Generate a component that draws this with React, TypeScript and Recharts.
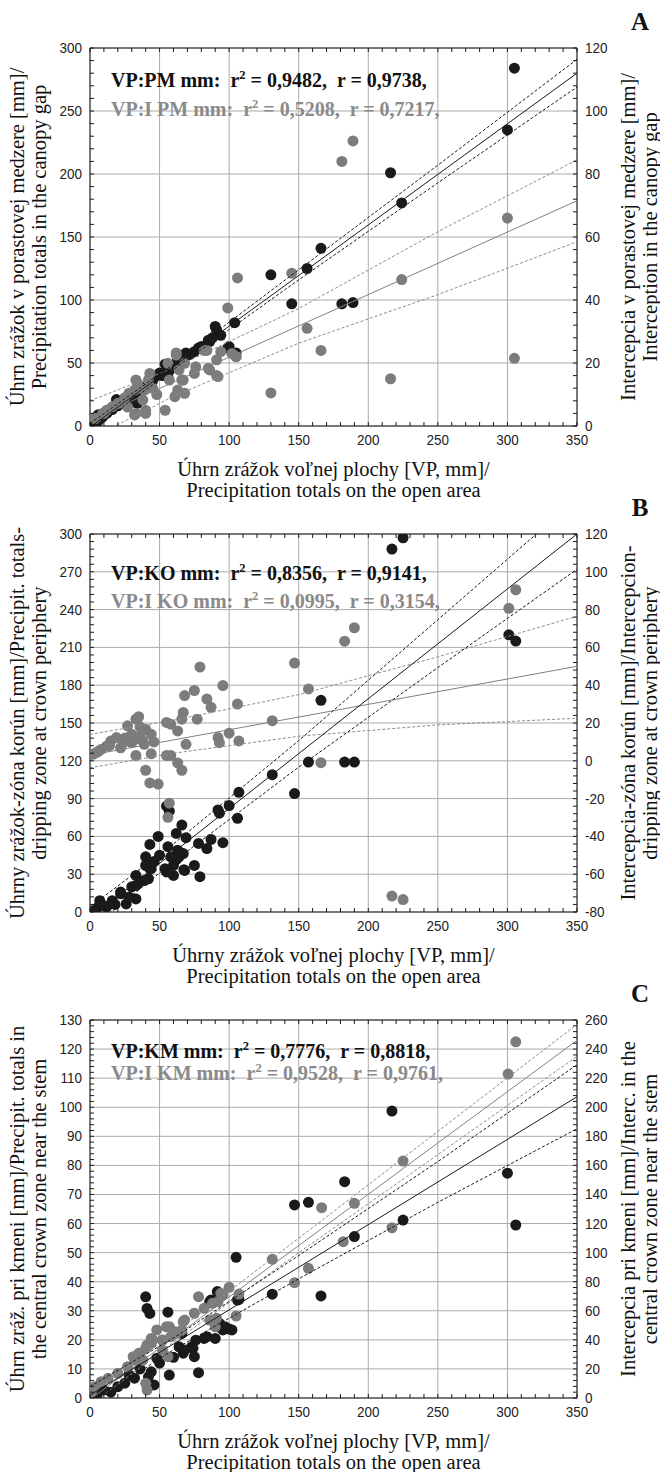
import React from "react";
import { ScatterChart, Scatter, XAxis, YAxis, CartesianGrid } from "recharts";

type Pt = { x: number; y: number };
const toPts = (rows: number[][]): Pt[] => rows.map(([x, y]) => ({ x, y }));

// open-area precipitation (x axis, mm), shared by all three panels
const openTicks = [0, 50, 100, 150, 200, 250, 300, 350];

// ---------- A: canopy gap ----------
const gapTicks = [0, 50, 100, 150, 200, 250, 300];
const gapInterTicks = [0, 20, 40, 60, 80, 100, 120];
const gapRain = toPts([
  [305, 284], [300, 235], [216, 201], [224, 177], [166, 141], [156, 125], [130, 120], [145, 97], [181, 97], [189, 98],
  [104, 82], [99, 62], [105, 58], [91, 76], [94, 72], [86, 67], [90, 79], [85, 68], [75, 59], [69, 58],
  [66, 56], [54, 49], [56, 39], [57, 44], [100, 63], [78, 62], [70, 56], [62, 50], [60, 48], [55, 43],
  [50, 42], [48, 40], [45, 36], [42, 33], [38, 30], [35, 28], [34, 18], [32, 25], [28, 22], [24, 19],
  [19, 21], [20, 16], [16, 13], [14, 13], [12, 10], [9, 7], [6, 9], [6, 4], [3, 2], [40, 31],
  [44, 34], [52, 40], [64, 52], [72, 57], [80, 63], [88, 70], [26, 17], [30, 20],
]);
const gapInter = toPts([
  [181, 84], [189, 90.5], [300, 66], [224, 46.5], [156, 31], [166, 24], [216, 15], [305, 21.5], [106, 47], [99, 37.5],
  [145, 48.5], [130, 10.5], [105, 22], [91, 21], [85, 18.3], [91, 16], [84, 24], [94, 23.6], [76, 18.8], [75, 16.7],
  [68, 10.4], [67, 14.6], [61, 9.3], [62, 22.5], [57, 14.6], [54, 5], [64, 17.8], [43, 16.7], [42, 14.6], [39, 11.4],
  [38, 8.3], [40, 5], [33, 4], [33, 14.6], [32, 11.4], [28, 10.4], [21, 7.2], [16, 6.1], [9, 4], [4, 2.4],
  [62, 23.2], [56, 19.9], [32, 3.5], [40, 4], [34, 13.6], [20, 7.2], [10, 4], [3, 2.4], [68, 19.9], [66, 14.6],
  [63, 11.4], [82, 24], [86, 17.8], [92, 15.7], [102, 23], [105, 22], [12, 5], [25, 9], [45, 12], [48, 10],
  [36, 12], [27, 6],
]);
const gapRainFit = toPts([[0, -1], [350, 280]]);
const gapRainHi = toPts([[0, 2], [60, 49], [150, 124], [250, 207], [350, 291]]);
const gapRainLo = toPts([[0, -4], [60, 45], [150, 116], [250, 193], [350, 269]]);
const gapInterFit = toPts([[0, 2], [350, 71.5]]);
const gapInterHi = toPts([[0, 8], [60, 18.4], [150, 37.3], [250, 61.7], [350, 84.5]]);
const gapInterLo = toPts([[0, -4], [60, 9.4], [150, 26.3], [250, 41.7], [350, 58.5]]);

// ---------- B: dripping zone at crown periphery ----------
const crownTicks = [0, 30, 60, 90, 120, 150, 180, 210, 240, 270, 300];
const crownInterTicks = [-80, -60, -40, -20, 0, 20, 40, 60, 80, 100, 120];
const crownRain = toPts([
  [217, 288], [225, 297], [301, 220], [306, 215], [166, 168], [157, 119], [183, 119], [190, 119], [131, 109], [147, 94],
  [107, 95], [100, 84.5], [106, 74.4], [92, 81], [93, 78.4], [95.5, 55], [87, 57.6], [84, 50.4], [78, 54.4], [75, 37],
  [79, 28], [69, 59], [66, 69], [62, 62.4], [64, 43.8], [67.5, 33.6], [63, 49], [57, 80], [55, 84], [49, 60],
  [43, 53.6], [56, 51.8], [54, 34.4], [58, 43.8], [60, 37], [40, 43.8], [44, 34.4], [33, 29], [40, 37], [42, 26.4],
  [33, 21], [22, 15.8], [67, 46.4], [62, 41.6], [68, 33], [33, 10.4], [26, 6.4], [22, 14.4], [7, 9], [16, 9],
  [5, 2.7], [12, 4], [39, 25], [55, 31.8], [60, 29], [43, 34.4], [30, 20], [28, 12], [18, 6], [10, 5],
  [3, 1], [36, 24], [46, 40], [50, 45],
]);
const crownInter = toPts([
  [306, 90.5], [301, 80.7], [183, 63.3], [190, 70.4], [157, 38], [166, -1], [217, -71.6], [225, -73.4], [79, 49.6], [75, 37.2],
  [68, 34.5], [84, 32.7], [87, 28.3], [95.5, 39.8], [106, 30], [67, 25.6], [66, 22], [77, 22], [100, 14.6], [92, 12.3],
  [93, 9.6], [107, 10.5], [69, 8.7], [55, 20.3], [58, 19.4], [63, 15.8], [55, 2.8], [58, 2.8], [63, -1.1], [66, -5],
  [44, 3.7], [33, 2.8], [40, -5], [43, -11.7], [49, -12.3], [57, -22.4], [56, -29.9], [35, 23.3], [33, 22], [27, 18.5],
  [36, 13.2], [40, 16.7], [38, 10.5], [46, 10], [39, 8.7], [32, 11.4], [30, 9.6], [19, 12.3], [15, 10.5], [12, 7.8],
  [8, 6], [4.5, 4.3], [2, 3.4], [22, 6.9], [24, 9.6], [131, 21.2], [147, 51.7], [25, 12], [6, 5], [14, 8],
  [30, 14], [36, 18], [44, 14],
]);
const crownRainFit = toPts([[0, -5], [350, 300]]);
const crownRainHi = toPts([[0, 4], [60, 54], [150, 136], [250, 232], [350, 328]]);
const crownRainLo = toPts([[0, -14], [60, 40], [150, 115], [250, 194], [350, 272]]);
const crownInterFit = toPts([[0, 3], [350, 50]]);
const crownInterHi = toPts([[0, 14], [60, 21.5], [150, 35], [250, 55], [350, 76.5]]);
const crownInterLo = toPts([[0, -3.7], [60, 4], [150, 13], [250, 19], [350, 22.5]]);

// ---------- C: central crown zone near the stem ----------
const stemTicks = [0, 10, 20, 30, 40, 50, 60, 70, 80, 90, 100, 110, 120, 130];
const stemInterTicks = [0, 20, 40, 60, 80, 100, 120, 140, 160, 180, 200, 220, 240, 260];
const stemRain = toPts([
  [217, 98.7], [183, 74.4], [157, 67.3], [300, 77.3], [306, 59.5], [225, 61.2], [190, 55.5], [166, 35.1], [147, 66.4], [105, 48.4],
  [131, 35.7], [107, 33.9], [91.5, 36.6], [86, 33.1], [40, 34.8], [41, 30.8], [43, 29.1], [56, 29.5], [100, 23.7], [95.5, 23.4],
  [93, 25.7], [91, 24.5], [84, 21.1], [76, 19.9], [74, 17.1], [67, 15.4], [48, 13.7], [52, 19.9], [66, 22.2], [64, 17.6],
  [78, 8.7], [57, 7.9], [46, 4.5], [42, 7.3], [32, 6.8], [25, 5.1], [20, 3.9], [10, 2.8], [68, 16.5], [73, 17.6],
  [75, 14.2], [82, 20.5], [90, 20.5], [97, 24.5], [102, 23.4], [106, 33.7], [87, 33.7], [15, 2], [5, 1], [28, 8],
  [36, 10], [50, 12], [60, 14], [44, 9],
]);
const stemInter = toPts([
  [306, 245], [300.5, 222.8], [225, 163], [190, 133.9], [166.5, 130.9], [182, 107.5], [217, 117.1], [157, 89.2], [147, 79.3], [131, 95.4],
  [78, 69.7], [100, 76.1], [107, 71.5], [105, 56.4], [75, 58.3], [82, 61.7], [92, 66.2], [95.5, 70.8], [86, 53.6], [91, 54.8],
  [57, 49], [67, 52.5], [62, 44.5], [52, 39.9], [45, 39.9], [40, 34.2], [36, 30.7], [31, 28.4], [88, 65.1], [94, 72],
  [90, 49], [68, 53.6], [66, 46.8], [61, 45.6], [58, 42.2], [55, 49], [56, 28.4], [52, 33], [44, 37.6], [41, 36.5],
  [35, 30.7], [32, 26.1], [38, 26.1], [41, 5.5], [40, 10.1], [27, 21.5], [20, 17], [13, 13.5], [8, 11.2], [3.3, 7.8],
  [1, 4.3], [48, 46.8], [44, 41],
]);
const stemRainFit = toPts([[0, 1], [350, 103.6]]);
const stemRainHi = toPts([[0, 4], [60, 20.6], [150, 49], [250, 81.3], [350, 114.6]]);
const stemRainLo = toPts([[0, -2], [60, 16.6], [150, 41], [250, 67.3], [350, 92.6]]);
const stemInterFit = toPts([[0, -1], [350, 246]]);
const stemInterHi = toPts([[0, 3], [60, 44.3], [150, 109.9], [250, 183.4], [350, 257]]);
const stemInterLo = toPts([[0, -5], [60, 38.3], [150, 99.9], [250, 167.4], [350, 235]]);

const INK = "#1a1a1a";
const GREY = "#7c7c7c";
const GREY_TEXT = "#8a8a8a";
const SERIF = "'Liberation Serif', 'Times New Roman', serif";
const SANS = "'Liberation Sans', Arial, sans-serif";

const PANEL_H = 486;
const PLOT_TOP = 48;
const PLOT_H = 378;
const PLOT_LEFT = 90;
const PLOT_RIGHT = 577;
const TITLE_SIZE = 20.5;

// minor tick positions between the labelled ones
const steps = (lo: number, hi: number, step: number) => {
  const out: number[] = [];
  for (let v = lo; v <= hi + 1e-9; v += step) out.push(Math.round(v * 1000) / 1000);
  return out;
};
const isMajor = (v: number, majors: number[]) => majors.some((m) => Math.abs(m - v) < 1e-6);

// tick numbers are drawn a little taller than wide
const TickLabel = ({ x, y, anchor, value }: { x: number; y: number; anchor: string; value: number }) => (
  <text
    transform={`translate(${x},${y}) scale(1,1.12)`}
    textAnchor={anchor}
    fontFamily={SANS}
    fontSize={13.5}
    fill="#222"
  >
    {value}
  </text>
);

const BottomTick = (p: any) => (
  <g>
    <line x1={p.x} x2={p.x} y1={p.y} y2={p.y - 4} stroke={INK} />
    {isMajor(p.payload.value, p.majors) && <TickLabel x={p.x} y={p.y + 19} anchor="middle" value={p.payload.value} />}
  </g>
);
const TopTick = (p: any) => <line x1={p.x} x2={p.x} y1={p.y} y2={p.y + 4} stroke={INK} />;
const LeftTick = (p: any) => (
  <g>
    <line x1={p.x} x2={p.x + 4} y1={p.y} y2={p.y} stroke={INK} />
    {isMajor(p.payload.value, p.majors) && <TickLabel x={p.x - 8} y={p.y + 5} anchor="end" value={p.payload.value} />}
  </g>
);
const RightTick = (p: any) => (
  <g>
    <line x1={p.x - 4} x2={p.x} y1={p.y} y2={p.y} stroke={INK} />
    {isMajor(p.payload.value, p.majors) && <TickLabel x={p.x + 8} y={p.y + 5} anchor="start" value={p.payload.value} />}
  </g>
);

const NoDot = () => null;
const dot = (color: string) => (p: any) => <circle cx={p.cx} cy={p.cy} r={5.5} fill={color} />;

type Stat = { label: string; r2: string; r: string };
type PanelProps = {
  top: number;
  letter: string;
  leftTicks: number[];
  leftMinor: number;
  rightTicks: number[];
  rightMinor: number;
  rain: Pt[];
  inter: Pt[];
  rainFit: Pt[];
  rainHi: Pt[];
  rainLo: Pt[];
  interFit: Pt[];
  interHi: Pt[];
  interLo: Pt[];
  stats: [Stat, Stat];
  statY: [number, number];
  leftTitle: [string, string];
  rightTitle: [string, string];
  xTitle: [string, string];
};

const StatLine = ({ s, y, color }: { s: Stat; y: number; color: string }) => (
  <div
    style={{
      position: "absolute",
      left: 111,
      top: y - 10,
      lineHeight: "20px",
      fontFamily: SERIF,
      fontWeight: "bold",
      fontSize: 20,
      color,
      whiteSpace: "pre",
    }}
  >
    {`${s.label}:  r`}
    <span style={{ fontSize: 12.5, position: "relative", top: -8 }}>2</span>
    {` = ${s.r2},  r = ${s.r},`}
  </div>
);

const VerticalTitle = ({ lines, cx, cy }: { lines: [string, string]; cx: number; cy: number }) => (
  <div
    style={{
      position: "absolute",
      left: cx,
      top: cy,
      transform: "translate(-50%, -50%) rotate(-90deg)",
      fontFamily: SERIF,
      fontSize: TITLE_SIZE,
      lineHeight: "22px",
      textAlign: "center",
      whiteSpace: "nowrap",
      color: "#111",
    }}
  >
    <div>{lines[0]}</div>
    <div>{lines[1]}</div>
  </div>
);

const Panel = (p: PanelProps) => {
  const lDom = [p.leftTicks[0], p.leftTicks[p.leftTicks.length - 1]];
  const rDom = [p.rightTicks[0], p.rightTicks[p.rightTicks.length - 1]];
  const xMinor = steps(0, 350, 10);
  const midY = PLOT_TOP + PLOT_H / 2;
  const bottom = PLOT_TOP + PLOT_H;
  const fitLine = (data: Pt[], yAxisId: string, stroke: string, dashed: boolean, key: string) => (
    <Scatter
      key={key}
      data={data}
      xAxisId="x"
      yAxisId={yAxisId}
      fill="none"
      line={{ stroke, strokeWidth: 1, strokeDasharray: dashed ? "3 2" : undefined }}
      shape={<NoDot />}
      isAnimationActive={false}
    />
  );
  return (
    <div style={{ position: "absolute", left: 0, top: p.top, width: 660, height: PANEL_H }}>
      <ScatterChart width={660} height={PANEL_H} margin={{ top: PLOT_TOP, right: 0, bottom: 0, left: 0 }}>
        <CartesianGrid
          xAxisId="x"
          yAxisId="left"
          verticalValues={openTicks}
          horizontalValues={p.leftTicks}
          stroke="#ababab"
        />
        <XAxis
          xAxisId="x"
          type="number"
          dataKey="x"
          domain={[0, 350]}
          allowDataOverflow
          ticks={xMinor}
          interval={0}
          height={60}
          tickSize={0}
          tickMargin={0}
          tickLine={false}
          axisLine={{ stroke: INK }}
          tick={<BottomTick majors={openTicks} />}
        />
        <XAxis
          xAxisId="top"
          orientation="top"
          mirror
          type="number"
          dataKey="x"
          domain={[0, 350]}
          allowDataOverflow
          ticks={xMinor}
          interval={0}
          tickSize={0}
          tickMargin={0}
          tickLine={false}
          axisLine={{ stroke: INK }}
          tick={<TopTick />}
        />
        <YAxis
          yAxisId="left"
          type="number"
          dataKey="y"
          domain={lDom}
          allowDataOverflow
          ticks={steps(lDom[0], lDom[1], p.leftMinor)}
          interval={0}
          width={PLOT_LEFT}
          tickSize={0}
          tickMargin={0}
          tickLine={false}
          axisLine={{ stroke: INK }}
          tick={<LeftTick majors={p.leftTicks} />}
        />
        <YAxis
          yAxisId="right"
          orientation="right"
          type="number"
          dataKey="y"
          domain={rDom}
          allowDataOverflow
          ticks={steps(rDom[0], rDom[1], p.rightMinor)}
          interval={0}
          width={660 - PLOT_RIGHT}
          tickSize={0}
          tickMargin={0}
          tickLine={false}
          axisLine={{ stroke: INK }}
          tick={<RightTick majors={p.rightTicks} />}
        />
        <Scatter data={p.rain} xAxisId="x" yAxisId="left" fill={INK} shape={dot(INK)} isAnimationActive={false} />
        <Scatter data={p.inter} xAxisId="x" yAxisId="right" fill={GREY} shape={dot(GREY)} isAnimationActive={false} />
        {fitLine(p.interHi, "right", "#8c8c8c", true, "ih")}
        {fitLine(p.interLo, "right", "#8c8c8c", true, "il")}
        {fitLine(p.interFit, "right", "#808080", false, "if")}
        {fitLine(p.rainHi, "left", INK, true, "rh")}
        {fitLine(p.rainLo, "left", INK, true, "rl")}
        {fitLine(p.rainFit, "left", INK, false, "rf")}
      </ScatterChart>

      <StatLine s={p.stats[0]} y={PLOT_TOP + p.statY[0]} color="#111" />
      <StatLine s={p.stats[1]} y={PLOT_TOP + p.statY[1]} color={GREY_TEXT} />

      <div
        style={{
          position: "absolute",
          left: 620,
          top: 9,
          width: 40,
          textAlign: "center",
          fontFamily: SERIF,
          fontWeight: "bold",
          fontSize: 25,
          lineHeight: "26px",
          color: "#111",
        }}
      >
        {p.letter}
      </div>

      <VerticalTitle lines={p.leftTitle} cx={28} cy={midY} />
      <VerticalTitle lines={p.rightTitle} cx={639} cy={midY} />

      <div
        style={{
          position: "absolute",
          left: PLOT_LEFT - 40,
          width: PLOT_RIGHT - PLOT_LEFT + 80,
          top: bottom + 44 - 11,
          textAlign: "center",
          fontFamily: SERIF,
          fontSize: TITLE_SIZE,
          lineHeight: "21px",
          color: "#111",
          whiteSpace: "nowrap",
        }}
      >
        <div>{p.xTitle[0]}</div>
        <div>{p.xTitle[1]}</div>
      </div>
    </div>
  );
};

export default function App() {
  return (
    <div
      style={{
        position: "absolute",
        left: 0,
        top: 0,
        width: 660,
        height: 1472,
        background: "#fff",
        overflow: "hidden",
      }}
    >
      <Panel
        top={0}
        letter="A"
        leftTicks={gapTicks}
        leftMinor={10}
        rightTicks={gapInterTicks}
        rightMinor={4}
        rain={gapRain}
        inter={gapInter}
        rainFit={gapRainFit}
        rainHi={gapRainHi}
        rainLo={gapRainLo}
        interFit={gapInterFit}
        interHi={gapInterHi}
        interLo={gapInterLo}
        stats={[
          { label: "VP:PM mm", r2: "0,9482", r: "0,9738" },
          { label: "VP:I PM mm", r2: "0,5208", r: "0,7217" },
        ]}
        statY={[32, 61]}
        leftTitle={["Úhrn zrážok v porastovej medzere [mm]/", "Precipitation totals in the canopy gap"]}
        rightTitle={["Intercepcia v porastovej medzere [mm]/", "Interception in the canopy gap"]}
        xTitle={["Úhrn zrážok voľnej plochy [VP, mm]/", "Precipitation totals on the open area"]}
      />
      <Panel
        top={486}
        letter="B"
        leftTicks={crownTicks}
        leftMinor={6}
        rightTicks={crownInterTicks}
        rightMinor={4}
        rain={crownRain}
        inter={crownInter}
        rainFit={crownRainFit}
        rainHi={crownRainHi}
        rainLo={crownRainLo}
        interFit={crownInterFit}
        interHi={crownInterHi}
        interLo={crownInterLo}
        stats={[
          { label: "VP:KO mm", r2: "0,8356", r: "0,9141" },
          { label: "VP:I KO mm", r2: "0,0995", r: "0,3154" },
        ]}
        statY={[39, 67]}
        leftTitle={["Úhrny zrážok-zóna korún [mm]/Precipit. totals-", "dripping zone at crown periphery"]}
        rightTitle={["Intercepcia-zóna korún [mm]/Intercepcion-", "dripping zone at crown periphery"]}
        xTitle={["Úhrny zrážok voľnej plochy [VP, mm]/", "Precipitation totals on the open area"]}
      />
      <Panel
        top={972}
        letter="C"
        leftTicks={stemTicks}
        leftMinor={2}
        rightTicks={stemInterTicks}
        rightMinor={4}
        rain={stemRain}
        inter={stemInter}
        rainFit={stemRainFit}
        rainHi={stemRainHi}
        rainLo={stemRainLo}
        interFit={stemInterFit}
        interHi={stemInterHi}
        interLo={stemInterLo}
        stats={[
          { label: "VP:KM mm", r2: "0,7776", r: "0,8818" },
          { label: "VP:I KM mm", r2: "0,9528", r: "0,9761" },
        ]}
        statY={[31, 53]}
        leftTitle={["Úhrn zráž. pri kmeni [mm]/Precipit. totals in", "the central crown zone near the stem"]}
        rightTitle={["Intercepcia pri kmeni [mm]/Interc. in the", "central crown zone near the stem"]}
        xTitle={["Úhrn zrážok voľnej plochy [VP, mm]/", "Precipitation totals on the open area"]}
      />
    </div>
  );
}
